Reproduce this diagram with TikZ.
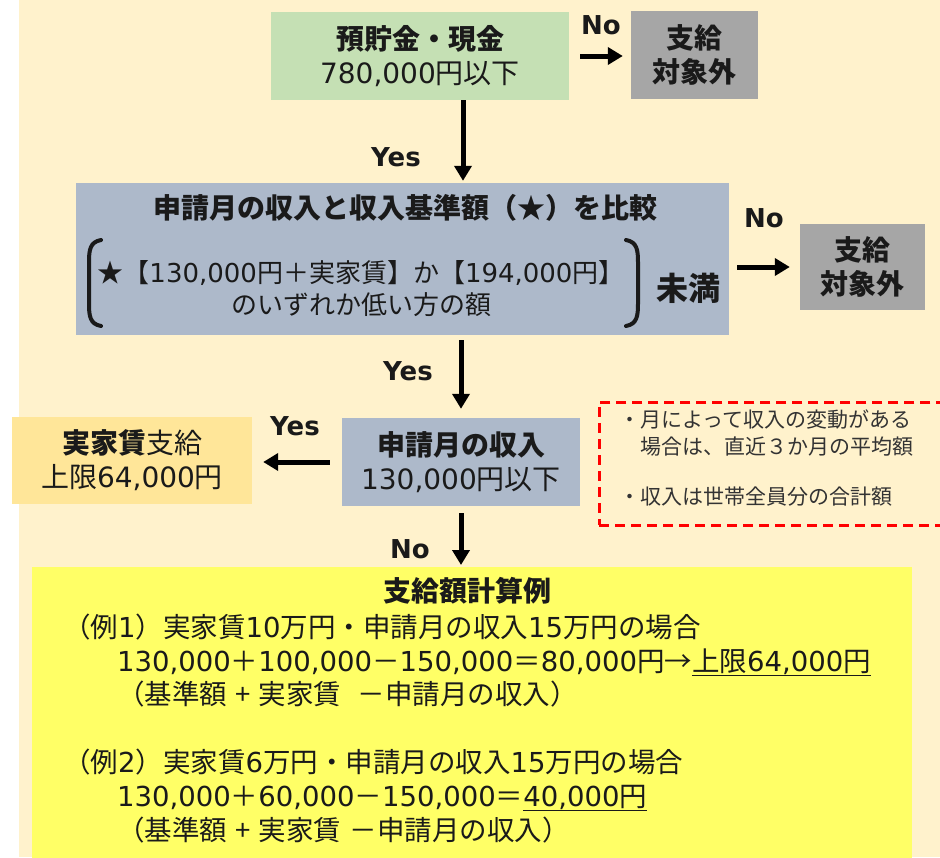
\documentclass[tikz,border=0pt]{standalone}
\usepackage{fontspec}
\setmainfont{Noto Sans CJK JP}
\newfontfamily\ynfont{DejaVu Sans}
\newcommand\dg[1]{{\ynfont #1}}
\usetikzlibrary{arrows.meta,calc}
\definecolor{peach}{HTML}{FFF2CC}
\definecolor{lgreen}{HTML}{C5E0B4}
\definecolor{gbox}{HTML}{A6A6A6}
\definecolor{bbox}{HTML}{ADB9CA}
\definecolor{obox}{HTML}{FFE699}
\definecolor{ybox}{HTML}{FFFF66}
\definecolor{txt}{HTML}{1A1A1A}
\definecolor{notetxt}{HTML}{333333}
\begin{document}
\begin{tikzpicture}[x=1pt,y=-1pt,
  box/.style={rectangle, inner sep=0pt, align=center, text=txt},
  arr/.style={line width=5pt, -{Triangle[length=15pt,width=17pt]}},
  yn/.style={font=\ynfont\bfseries\fontsize{26}{30}\selectfont, text=txt, inner sep=0pt},
  main/.style={font=\fontsize{28}{34}\selectfont},
  ex/.style={font=\fontsize{27.5}{34}\selectfont, text=txt, inner sep=0pt, anchor=base west},
  note/.style={font=\fontsize{21}{26}\selectfont, text=notetxt, inner sep=0pt, anchor=base west}]
\useasboundingbox (0,0) rectangle (940,857);
\fill[white] (0,0) rectangle (19,857);
\fill[peach] (19,0) rectangle (940,857);

% top
\node[box, main, fill=lgreen, minimum width=298pt, minimum height=88pt] (green) at (420,56) {\textbf{預貯金・現金}\\\dg{780,000}円以下};
\node[box, main, fill=gbox, minimum width=127pt, minimum height=88pt] (gray1) at (694.5,55) {\textbf{支給}\\\textbf{対象外}};
\node[yn] (no1) at (601,25) {No};
\draw[arr, shorten <=11pt, shorten >=8pt] (green.east) -- (green.east -| gray1.west);

% blue 1
\node[box, fill=bbox, minimum width=653pt, minimum height=152pt] (blue1) at (402.5,259) {};
\node[box, font=\bfseries\fontsize{28}{30}\selectfont] (b1title) at (405,208) {申請月の収入と収入基準額（★）を比較};
\node[box, font=\fontsize{26}{32}\selectfont] (b1text) at (361,289) {★【\dg{130,000}円＋実家賃】か【\dg{194,000}円】\\のいずれか低い方の額};
\draw[line width=4pt, line cap=round, txt] (101,240) .. controls (90,242) and (89,250) .. (89,262) -- (89,304) .. controls (89,316) and (90,324) .. (101,326);
\draw[line width=4pt, line cap=round, txt] (626,240) .. controls (637,242) and (638,250) .. (638,262) -- (638,304) .. controls (638,316) and (637,324) .. (626,326);
\node[box, font=\bfseries\fontsize{32}{34}\selectfont] (miman) at (688,288) {未満};
\node[box, main, fill=gbox, minimum width=125pt, minimum height=86pt] (gray2) at (862.5,267) {\textbf{支給}\\\textbf{対象外}};
\node[yn] (no2) at (764,218) {No};
\draw[arr, shorten <=8pt, shorten >=10pt] (blue1.east |- gray2.west) -- (gray2.west);

% blue 2 and orange
\node[box, main, fill=bbox, minimum width=238pt, minimum height=88pt] (blue2) at (461,462) {\textbf{申請月の収入}\\\dg{130,000}円以下};
\coordinate (c1) at ($(green.south)+(43,0)$);
\draw[arr, shorten >=2pt] (c1) -- (c1 |- blue1.north);
\node[yn] (yes1) at (396,157) {Yes};
\draw[arr, shorten <=5pt, shorten >=9pt] (blue2.north |- blue1.south) -- (blue2.north);
\node[yn] (yes2) at (408,371) {Yes};
\node[box, main, fill=obox, minimum width=240pt, minimum height=87pt] (orange) at (132,460.5) {\textbf{実家賃}支給\\上限\dg{64,000}円};
\draw[arr, shorten <=12pt, shorten >=11pt] (blue2.west) -- (blue2.west -| orange.east);
\node[yn] (yes3) at (295,426) {Yes};

% note
\node[draw=red, line width=2.5pt, dash pattern=on 10pt off 6pt, minimum width=352pt, minimum height=123pt, anchor=north west, inner sep=0pt] (notebox) at (598,401) {};
\node[note] (n1) at (619,427) {・月によって収入の変動がある};
\node[note] (n2) at (640,454) {場合は、直近３か月の平均額};
\node[note] (n3) at (619,504) {・収入は世帯全員分の合計額};

% yellow
\node[box, fill=ybox, minimum width=880pt, minimum height=300pt, anchor=north west] (yellow) at (32,567) {};
\draw[arr, shorten <=7pt, shorten >=2pt] (blue2.south) -- (blue2.south |- yellow.north);
\node[yn] (no3) at (410,549) {No};
\node[box, font=\bfseries\fontsize{28}{30}\selectfont] (ytitle) at (467,591) {支給額計算例};
\node[ex] (e1a) at (63,637) {（例\dg{1}）実家賃\dg{10}万円・申請月の収入\dg{15}万円の場合};
\node[ex] (e1b) at (117,671) {\dg{130,000}＋\dg{100,000}－\dg{150,000}＝\dg{80,000}円→\underline{上限\dg{64,000}円}};
\node[ex] (e1c) at (117,704) {（基準額\hspace{0.3em}+\hspace{0.3em}実家賃\hspace{0.6em}－申請月の収入）};
\node[ex] (e2a) at (63,772) {（例\dg{2}）実家賃\dg{6}万円・申請月の収入\dg{15}万円の場合};
\node[ex] (e2b) at (117,806) {\dg{130,000}＋\dg{60,000}－\dg{150,000}＝\underline{\dg{40,000}円}};
\node[ex] (e2c) at (117,840) {（基準額\hspace{0.3em}+\hspace{0.3em}実家賃\hspace{0.3em}－申請月の収入）};
\end{tikzpicture}
\end{document}
